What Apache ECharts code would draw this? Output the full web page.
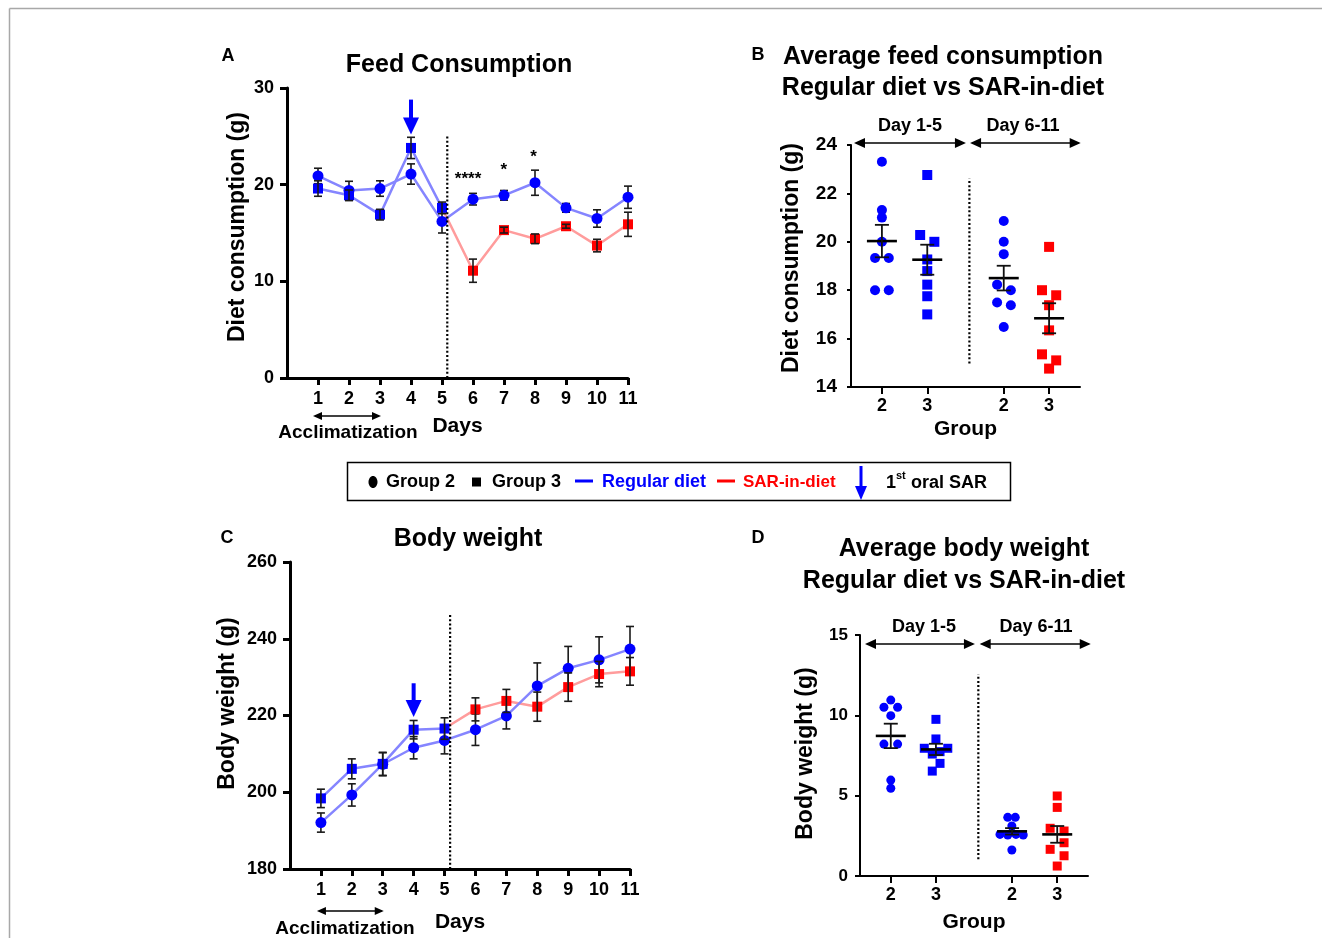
<!DOCTYPE html>
<html><head><meta charset="utf-8">
<script src="https://cdn.jsdelivr.net/npm/echarts@6/dist/echarts.min.js"></script>
<style>html,body{margin:0;padding:0;background:#fff}#c{width:1322px;height:938px}</style>
</head><body><div id="c"></div>
<script>
// ---------- DATA ----------
const days = [1,2,3,4,5,6,7,8,9,10,11];
const dayLabels = ['1','2','3','4','5','6','7','8','9','10','11'];
// Panel A: feed consumption (g), mean and SEM
const feedG2 = [20.9,19.4,19.6,21.1,16.2,18.5,18.9,20.2,17.6,16.5,18.7];
const feedG2Err = [0.8,0.95,0.8,1.05,1.2,0.6,0.5,1.3,0.45,0.9,1.15];
const feedG3 = [19.6,18.9,16.9,23.8,17.6,11.1,15.3,14.4,15.7,13.7,15.9];
const feedG3Err = [0.8,0.55,0.55,1.1,0.6,1.2,0.3,0.5,0.2,0.65,1.25];
const feedStars = [['****',5.84,21.0],['*',6.99,21.85],['*',7.95,23.27]];
// Panel C: body weight (g)
const bwG2 = [192.1,199.3,207.3,211.6,213.5,216.3,219.9,227.7,232.3,234.5,237.3];
const bwG2Err = [2.5,2.9,3.0,2.9,3.5,4.1,3.4,6.0,5.7,6.0,5.9];
const bwG3 = [198.4,206.1,207.4,216.3,216.6,221.6,223.8,222.3,227.4,230.8,231.5];
const bwG3Err = [2.4,2.6,3.0,2.4,2.8,3.0,3.0,3.8,3.7,3.3,3.6];
// Panels B, D: group positions on the x axis and labels
const groupPos = [1.35,3.33,6.67,8.65];
const groupLabels = ['2','3','2','3'];
const periodLabels = ['Day 1-5','Day 6-11'];
// Panel B: average feed consumption per animal
const bG2early = [23.31,21.31,21.0,20.0,19.33,19.33,18.0,18.0];
const bG2earlyJit = [0,0,0,0,-0.3,0.3,-0.3,0.3];
const bG3early = [22.76,20.28,20.0,19.27,18.79,18.23,17.75,17.0];
const bG3earlyJit = [0,-0.31,0.31,0,0,0,0,0];
const bG2late = [20.86,20.0,19.49,18.23,18.0,17.49,17.38,16.48];
const bG2lateJit = [0,0,0,-0.29,0.31,-0.29,0.31,0];
const bG3late = [19.79,18.0,17.79,17.38,16.34,15.35,15.1,14.76];
const bG3lateJit = [0,-0.31,0.31,0,0,-0.31,0.31,0];
const bMeans = [20.03,19.26,18.5,16.84];
const bSem = [0.67,0.62,0.51,0.62];
// Panel D: average body weight gain per animal
const dG2early = [10.95,10.5,10.5,9.98,8.21,8.21,5.97,5.46];
const dG2earlyJit = [0,-0.3,0.3,0,-0.3,0.3,0,0];
const dG3early = [9.75,8.53,7.95,7.95,7.74,7.59,7.01,6.53];
const dG3earlyJit = [0,0,-0.51,0.52,0.18,-0.16,0.18,-0.16];
const dG2late = [3.65,3.65,3.11,2.59,2.55,2.59,2.55,1.62];
const dG2lateJit = [-0.19,0.14,-0.01,-0.53,-0.19,0.17,0.49,-0.01];
const dG3late = [4.98,4.27,2.97,2.8,2.07,1.66,1.26,0.62];
const dG3lateJit = [0,0,-0.31,0.3,0.3,-0.31,0.3,0];
const dMeans = [8.72,7.88,2.78,2.59];
const dSem = [0.76,0.35,0.2,0.52];

// ---------- STYLE ----------
const FONT = 'Liberation Sans';
const BLUE = '#0000ff', RED = '#ff0000', LBLUE = '#8585ff', LRED = '#ff9c9c';

const chart = echarts.init(document.getElementById('c'), null, {renderer:'canvas'});

function yAx(g, min, max, interval, name, nameGap, fs, ns, lw, tl, margin, shiftUp) {
  return {type:'value', gridIndex:g, min, max, interval, name, nameLocation:'middle', nameGap,
    nameTextStyle:{fontFamily:FONT, fontWeight:'bold', fontSize:ns, color:'#000', padding:[0,0,0,shiftUp*2]},
    axisLine:{show:true, lineStyle:{color:'#000', width:lw}},
    axisTick:{show:true, length:tl, lineStyle:{color:'#000', width:lw}},
    axisLabel:{fontFamily:FONT, fontWeight:'bold', fontSize:fs, color:'#000', margin},
    splitLine:{show:false}};
}
function xDays(g, name, nameGap, lw) {
  return {type:'value', gridIndex:g, min:0, max:11, name, nameLocation:'middle', nameGap,
    nameTextStyle:{fontFamily:FONT, fontWeight:'bold', fontSize:21, color:'#000'},
    axisLine:{show:true, lineStyle:{color:'#000', width:lw}},
    axisTick:{show:true, length:7, customValues:days, lineStyle:{color:'#000', width:lw}},
    axisLabel:{fontFamily:FONT, fontWeight:'bold', fontSize:18, color:'#000', margin:12,
      customValues:days, formatter:v => dayLabels[days.indexOf(v)]},
    splitLine:{show:false}};
}
function xGroups(g, nameGap) {
  return {type:'value', gridIndex:g, min:0, max:10, name:'Group', nameLocation:'middle', nameGap,
    nameTextStyle:{fontFamily:FONT, fontWeight:'bold', fontSize:21, color:'#000'},
    axisLine:{show:true, lineStyle:{color:'#000', width:2}},
    axisTick:{show:true, length:7, customValues:groupPos, lineStyle:{color:'#000', width:2}},
    axisLabel:{fontFamily:FONT, fontWeight:'bold', fontSize:18, color:'#000', margin:10,
      customValues:groupPos, formatter:v => {
        let bi=0; groupPos.forEach((p,i)=>{ if (Math.abs(p-v) < Math.abs(groupPos[bi]-v)) bi=i; });
        return groupLabels[bi]; }},
    splitLine:{show:false}};
}
function pairs(xs, ys, from, to) {
  const out = [];
  for (let i = from; i <= to; i++) out.push([xs[i], ys[i]]);
  return out;
}
function lineS(g, data, color, z) {
  return {type:'line', xAxisIndex:g, yAxisIndex:g, data, symbol:'none', silent:true,
    lineStyle:{color, width:2.5}, z, animation:false};
}
function markS(g, data, symbol, color, size, z) {
  return {type:'scatter', xAxisIndex:g, yAxisIndex:g, data, symbol, symbolSize:size, silent:true,
    itemStyle:{color, opacity:1}, z, animation:false};
}
function errS(g, triples, cap, z) {
  return {type:'custom', xAxisIndex:g, yAxisIndex:g, data:triples, silent:true, z, animation:false,
    renderItem:(p, api) => {
      const x = api.value(0), y = api.value(1), e = api.value(2);
      const t = api.coord([x, y+e]), b = api.coord([x, y-e]);
      const st = {stroke:'#1a1a1a', lineWidth:1.6};
      return {type:'group', children:[
        {type:'line', shape:{x1:t[0], y1:t[1], x2:b[0], y2:b[1]}, style:st},
        {type:'line', shape:{x1:t[0]-cap/2, y1:t[1], x2:t[0]+cap/2, y2:t[1]}, style:st},
        {type:'line', shape:{x1:b[0]-cap/2, y1:b[1], x2:b[0]+cap/2, y2:b[1]}, style:st}
      ]};
    }};
}
function meanS(g, means, sems, z) {
  const data = groupPos.map((p,i) => [p, means[i], sems[i]]);
  return {type:'custom', xAxisIndex:g, yAxisIndex:g, data, silent:true, z, animation:false,
    renderItem:(p, api) => {
      const x = api.value(0), y = api.value(1), e = api.value(2);
      const m = api.coord([x, y]), t = api.coord([x, y+e]), b = api.coord([x, y-e]);
      const st = {stroke:'#111', lineWidth:1.8};
      return {type:'group', children:[
        {type:'line', shape:{x1:m[0]-15, y1:m[1], x2:m[0]+15, y2:m[1]}, style:{stroke:'#000', lineWidth:2.6}},
        {type:'line', shape:{x1:t[0], y1:t[1], x2:b[0], y2:b[1]}, style:st},
        {type:'line', shape:{x1:t[0]-7, y1:t[1], x2:t[0]+7, y2:t[1]}, style:st},
        {type:'line', shape:{x1:b[0]-7, y1:b[1], x2:b[0]+7, y2:b[1]}, style:st}
      ]};
    }};
}
function pts(center, vals, jit) { return vals.map((v,i) => [center + jit[i], v]); }
function trip(xs, ys, es) { return xs.map((x,i) => [x, ys[i], es[i]]); }

const series = [];
// Panel A (grid 0)
series.push(lineS(0, pairs(days, feedG3, 4, 10), LRED, 2));
series.push(lineS(0, pairs(days, feedG2, 0, 10), LBLUE, 3));
series.push(lineS(0, pairs(days, feedG3, 0, 4), LBLUE, 3));
series.push(errS(0, trip(days, feedG2, feedG2Err), 8, 4));
series.push(markS(0, pairs(days, feedG2, 0, 10), 'circle', BLUE, 11, 5));
series.push(markS(0, pairs(days, feedG3, 0, 4), 'rect', BLUE, 10, 6));
series.push(markS(0, pairs(days, feedG3, 5, 10), 'rect', RED, 10, 6));
series.push(errS(0, trip(days, feedG3, feedG3Err), 8, 7));
// Panel C (grid 2)
series.push(lineS(2, pairs(days, bwG3, 4, 10), LRED, 2));
series.push(lineS(2, pairs(days, bwG2, 0, 10), LBLUE, 3));
series.push(lineS(2, pairs(days, bwG3, 0, 4), LBLUE, 3));
series.push(errS(2, trip(days, bwG2, bwG2Err), 8, 4));
series.push(markS(2, pairs(days, bwG2, 0, 10), 'circle', BLUE, 11, 5));
series.push(markS(2, pairs(days, bwG3, 0, 4), 'rect', BLUE, 10, 6));
series.push(markS(2, pairs(days, bwG3, 5, 10), 'rect', RED, 10, 6));
series.push(errS(2, trip(days, bwG3, bwG3Err), 8, 7));
// Panel B (grid 1)
series.push(markS(1, pts(groupPos[0], bG2early, bG2earlyJit), 'circle', BLUE, 10, 4));
series.push(markS(1, pts(groupPos[1], bG3early, bG3earlyJit), 'rect', BLUE, 10, 4));
series.push(markS(1, pts(groupPos[2], bG2late, bG2lateJit), 'circle', BLUE, 10, 4));
series.push(markS(1, pts(groupPos[3], bG3late, bG3lateJit), 'rect', RED, 10, 4));
series.push(meanS(1, bMeans, bSem, 6));
// Panel D (grid 3)
series.push(markS(3, pts(groupPos[0], dG2early, dG2earlyJit), 'circle', BLUE, 9, 4));
series.push(markS(3, pts(groupPos[1], dG3early, dG3earlyJit), 'rect', BLUE, 9, 4));
series.push(markS(3, pts(groupPos[2], dG2late, dG2lateJit), 'circle', BLUE, 9, 4));
series.push(markS(3, pts(groupPos[3], dG3late, dG3lateJit), 'rect', RED, 9, 4));
series.push(meanS(3, dMeans, dSem, 6));

chart.setOption({
  backgroundColor:'#fff',
  animation:false,
  grid:[
    {left:287, top:88, width:341, height:290},
    {left:851, top:145, width:229, height:242},
    {left:290, top:562, width:340, height:307},
    {left:860, top:635, width:228, height:241}
  ],
  xAxis:[xDays(0,'Days',38,3), xGroups(1,32), xDays(2,'Days',43,3), xGroups(3,36)],
  yAxis:[
    yAx(0, 0, 30, 10, 'Diet consumption (g)', 38, 18, 23, 3, 7, 13, 6),
    yAx(1, 14, 24, 2, 'Diet consumption (g)', 48, 19, 23, 2, 4, 14, 8),
    yAx(2, 180, 260, 20, 'Body weight (g)', 51, 18, 23, 3, 7, 13, 12),
    yAx(3, 0, 15, 5, 'Body weight (g)', 43, 17, 23, 2, 5, 12, 2)
  ],
  series
});

// ---------- ANNOTATIONS ----------
const P = (g, x, y) => chart.convertToPixel({gridIndex:g}, [x, y]);
const G = [];
function txt(text, x, y, size, opts) {
  G.push(Object.assign({type:'text', z:50, style:Object.assign({text, x, y, fill:'#000',
    font:'bold ' + size + 'px "' + FONT + '"', align:'center', verticalAlign:'middle'}, opts || {})}));
}
function vdots(g, x, y0, y1) {
  const a = P(g, x, y0), b = P(g, x, y1);
  G.push({type:'line', z:40, shape:{x1:a[0], y1:a[1], x2:b[0], y2:b[1]},
    style:{stroke:'#000', lineWidth:2.2, lineDash:[2, 2.2]}});
}
function downArrow(x, yTop, yTip, headH, headW, shaftW, color) {
  G.push({type:'rect', z:45, shape:{x:x-shaftW/2, y:yTop, width:shaftW, height:yTip-headH-yTop+1}, style:{fill:color}});
  G.push({type:'polygon', z:45, shape:{points:[[x-headW/2, yTip-headH],[x+headW/2, yTip-headH],[x, yTip]]}, style:{fill:color}});
}
function dblArrow(x1, x2, y, head, hw, lw) {
  G.push({type:'line', z:45, shape:{x1:x1+2, y1:y, x2:x2-2, y2:y}, style:{stroke:'#000', lineWidth:lw}});
  G.push({type:'polygon', z:45, shape:{points:[[x1, y],[x1+head, y-hw],[x1+head, y+hw]]}, style:{fill:'#000'}});
  G.push({type:'polygon', z:45, shape:{points:[[x2, y],[x2-head, y-hw],[x2-head, y+hw]]}, style:{fill:'#000'}});
}

// frame
G.push({type:'line', shape:{x1:9.5, y1:8.5, x2:1322, y2:8.5}, style:{stroke:'#a8a8a8', lineWidth:1.5}});
G.push({type:'line', shape:{x1:9.5, y1:8.5, x2:9.5, y2:938}, style:{stroke:'#a8a8a8', lineWidth:1.5}});

// Panel A
txt('A', 228, 56, 18);
txt('Feed Consumption', 459, 65, 25);
vdots(0, 5.17, 0, 25);
{ const t = P(0, 4, 28.8), b = P(0, 4, 25.2); downArrow(t[0], t[1], b[1], 17, 16, 4, BLUE); }
feedStars.forEach(s => { const p = P(0, s[1], s[2]); txt(s[0], p[0], p[1]+4, 17); });
{ const a = P(0, 1, 0), b = P(0, 3, 0); dblArrow(a[0]-5, b[0]+1, 416, 9, 4, 1.5); txt('Acclimatization', 348, 433, 19); }

// Panel C
txt('C', 227, 538, 18);
txt('Body weight', 468, 539, 25);
vdots(2, 5.18, 180, 246.5);
{ const t = P(2, 4, 228.4), b = P(2, 4, 219.6); downArrow(t[0], t[1], b[1], 17, 16, 4, BLUE); }
{ const a = P(2, 1, 180), b = P(2, 3, 180); dblArrow(a[0]-4, b[0]+1, 911, 9, 4, 1.5); txt('Acclimatization', 345, 929, 19); }

// Panel B
txt('B', 758, 55, 18);
txt('Average feed consumption', 943, 57, 25);
txt('Regular diet vs SAR-in-diet', 943, 88, 25);
vdots(1, 5.17, 14.97, 22.62);
{ const a = P(1, 0.13, 24.08), b = P(1, 5.02, 24.08), c = P(1, 5.2, 24.08), d = P(1, 10.03, 24.08);
  dblArrow(a[0], b[0], a[1], 11, 5, 1.6); dblArrow(c[0], d[0], c[1], 11, 5, 1.6);
  txt(periodLabels[0], 910, 126, 18); txt(periodLabels[1], 1023, 126, 18); }

// Panel D
txt('D', 758, 538, 18);
txt('Average body weight', 964, 549, 25);
txt('Regular diet vs SAR-in-diet', 964, 581, 25);
vdots(3, 5.19, 1.04, 12.55);
{ const a = P(3, 0.22, 14.44), b = P(3, 5.04, 14.44), c = P(3, 5.25, 14.44), d = P(3, 10.12, 14.44);
  dblArrow(a[0], b[0], a[1], 11, 5, 1.6); dblArrow(c[0], d[0], c[1], 11, 5, 1.6);
  txt(periodLabels[0], 924, 627, 18); txt(periodLabels[1], 1036, 627, 18); }

// Legend box
G.push({type:'rect', z:40, shape:{x:347.5, y:462.5, width:663, height:38}, style:{fill:'none', stroke:'#000', lineWidth:1.5}});
G.push({type:'ellipse', z:41, shape:{cx:373, cy:482, rx:4.5, ry:6}, style:{fill:'#000'}});
txt('Group 2', 386, 482, 18, {align:'left'});
G.push({type:'rect', z:41, shape:{x:472, y:477.5, width:9, height:9}, style:{fill:'#000'}});
txt('Group 3', 492, 482, 18, {align:'left'});
G.push({type:'line', z:41, shape:{x1:575, y1:481, x2:593, y2:481}, style:{stroke:BLUE, lineWidth:3}});
txt('Regular diet', 602, 482, 18, {align:'left', fill:BLUE});
G.push({type:'line', z:41, shape:{x1:717, y1:481, x2:735, y2:481}, style:{stroke:RED, lineWidth:3}});
txt('SAR-in-diet', 743, 482, 17, {align:'left', fill:RED});
downArrow(861, 466, 500, 14, 12, 3, BLUE);
txt('1', 886, 483, 18, {align:'left'});
txt('st', 896, 476, 11, {align:'left'});
txt('oral SAR', 911, 483, 18, {align:'left'});

chart.setOption({graphic:G});
</script></body></html>
